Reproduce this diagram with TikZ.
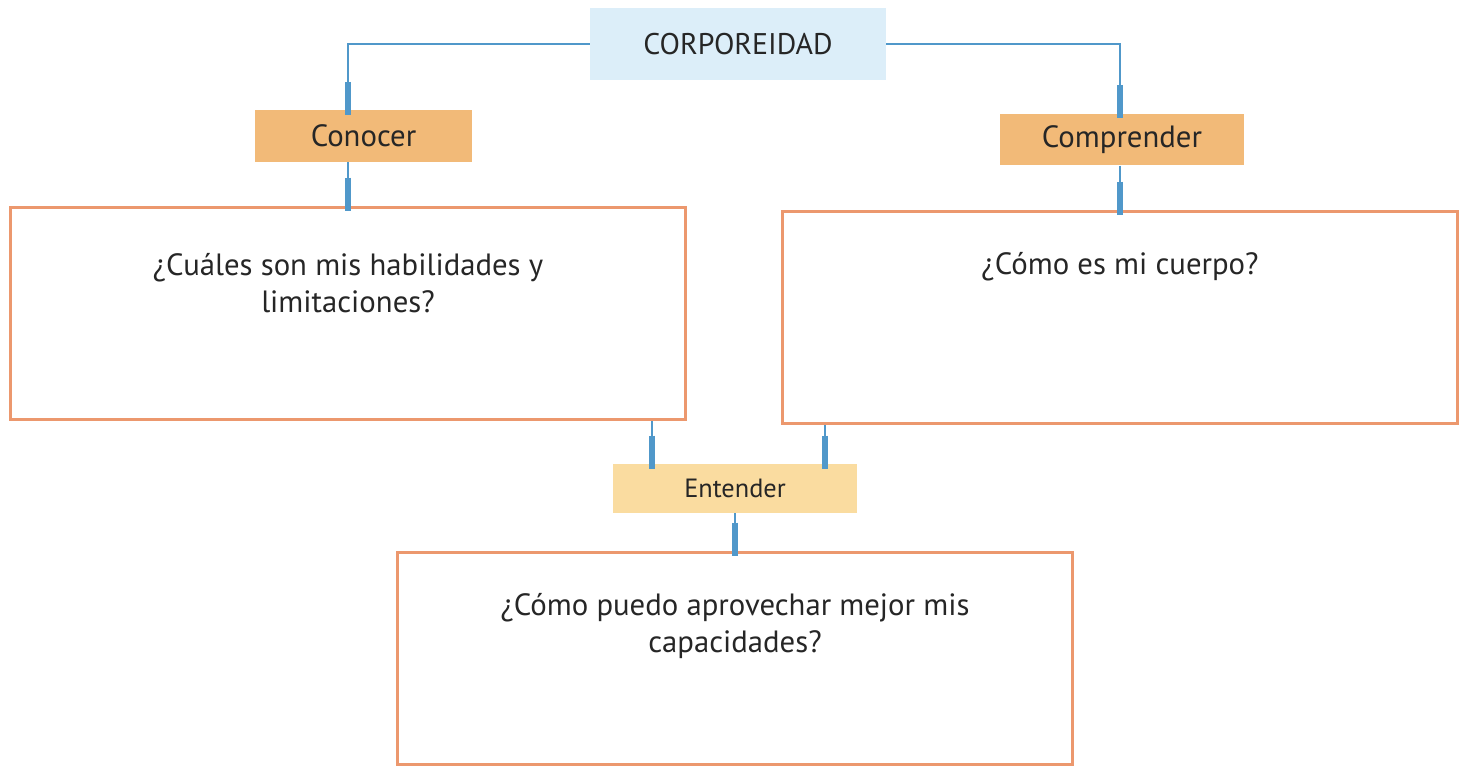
\documentclass[tikz,border=0pt]{standalone}
\usepackage{fontspec}
\setmainfont{PT Sans}
\usetikzlibrary{positioning}

\definecolor{corpblue}{RGB}{220,238,249}
\definecolor{tagorange}{RGB}{242,186,120}
\definecolor{tagpale}{RGB}{250,220,160}
\definecolor{frameorange}{RGB}{236,152,110}
\definecolor{linkblue}{RGB}{80,152,202}
\definecolor{inkgray}{RGB}{38,38,38}

% thick end piece of a connector, just above the node it enters
\newcommand{\plugat}[1]{\draw[plug] ([yshift=0.56cm]#1) -- ([yshift=-0.1cm]#1);}

\begin{document}
\begin{tikzpicture}[x=0.02cm,y=-0.02cm,
  every node/.style={text=inkgray},
  root/.style={fill=corpblue, minimum width=5.92cm, minimum height=1.44cm,
    font=\fontsize{17}{20}\selectfont},
  tag/.style={fill=tagorange, minimum width=#1, minimum height=1.03cm,
    font=\fontsize{17.5}{20}\selectfont},
  frame/.style={draw=frameorange, line width=1.7pt, fill=white,
    minimum width=13.52cm, minimum height=4.26cm},
  question/.style={align=center, font=\fontsize{17.5}{21}\selectfont},
  link/.style={draw=linkblue, line width=1.6pt},
  plug/.style={draw=linkblue, line width=3.6pt}]
\useasboundingbox (0,0) rectangle (1464,767);

% top
\node[root] (corp) at (738,44) {CORPOREIDAD};
\node[tag=4.34cm] (know) at (363.5,136) {Conocer};
\node[tag=4.88cm] (grasp) at (1122,139.5) {Comprender};

% question boxes
\node[frame] (abil) at (348,313.5) {};
\node[frame] (body) at (1120,317.5) {};
\node[question] (abiltxt) at (348,283) {¿Cuáles son mis habilidades y\\limitaciones?};
\node[question] (bodytxt) at (1120,267) {¿Cómo es mi cuerpo?};

\node[tag=4.88cm, fill=tagpale, minimum height=0.98cm,
  font=\fontsize{15}{18}\selectfont] (under) at (735,488.5) {Entender};
\node[frame] (use) at (735,658.5) {};
\node[question] (usetxt) at (735,626) {¿Cómo puedo aprovechar mejor mis\\capacidades?};

\coordinate (underl) at ([xshift=-1.66cm]under.north);
\coordinate (underr) at ([xshift=1.8cm]under.north);

% connectors
\draw[link] (corp.west) -| (know.north -| abil.north);
\draw[link] (corp.east) -| (grasp.north -| body.north);
\draw[link] (know.south -| abil.north) -- (abil.north);
\draw[link] (grasp.south -| body.north) -- (body.north);
\draw[link] (underl |- abil.south) -- (underl);
\draw[link] (underr |- body.south) -- (underr);
\draw[link] (under.south) -- (use.north);

\plugat{know.north -| abil.north}
\plugat{grasp.north -| body.north}
\plugat{abil.north}
\plugat{body.north}
\plugat{underl}
\plugat{underr}
\plugat{use.north}
\end{tikzpicture}
\end{document}
